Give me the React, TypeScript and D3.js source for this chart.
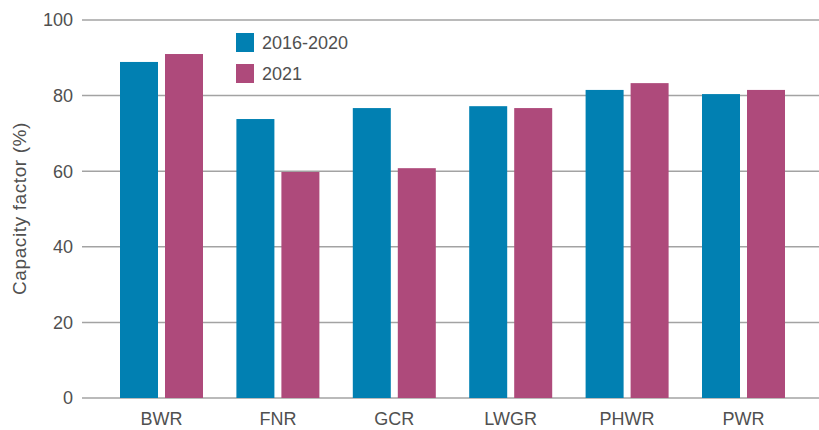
import React from "react";
import * as d3 from "d3";

const categories = ["BWR", "FNR", "GCR", "LWGR", "PHWR", "PWR"];
const seriesNames = ["2016-2020", "2021"];
const values2016_2020 = [88.9, 73.8, 76.7, 77.2, 81.5, 80.4];
const values2021 = [91.0, 59.8, 60.8, 76.7, 83.3, 81.5];
const yTicks = [0, 20, 40, 60, 80, 100];
const colors = ["#0180b2", "#ae4a7b"];

const W = 819;
const H = 430;
const FONT = "'Liberation Sans', Arial, sans-serif";
const TEXT = "#505050";

export default function App() {
  const y = d3.scaleLinear().domain([0, 100]).range([398, 20]);
  const x0 = d3.scaleBand<string>().domain(categories).range([103.3, 801.7]).padding(0);
  const groupW = 83;
  const x1 = d3
    .scaleBand<string>()
    .domain(seriesNames)
    .range([0, groupW])
    .paddingInner(7 / 45)
    .paddingOuter(0);
  const series = [values2016_2020, values2021];
  const gridX0 = 82;
  const gridX1 = 819;

  return (
    <svg width={W} height={H} style={{ position: "absolute", left: 0, top: 0 }} fontFamily={FONT}>
      <rect width={W} height={H} fill="#fff" />
      {yTicks.map((t) => (
        <g key={t}>
          <line x1={gridX0} x2={gridX1} y1={y(t)} y2={y(t)} stroke="#a3a3a3" strokeWidth={1.5} />
          <text x={73} y={y(t)} dy="0.36em" textAnchor="end" fontSize={18} fill={TEXT}>
            {t}
          </text>
        </g>
      ))}
      {categories.map((c, i) => {
        const gx = (x0(c) as number) + x0.bandwidth() / 2 - groupW / 2;
        return (
          <g key={c}>
            {seriesNames.map((s, j) => (
              <rect
                key={s}
                x={gx + (x1(s) as number)}
                y={y(series[j][i])}
                width={x1.bandwidth()}
                height={y(0) - y(series[j][i])}
                fill={colors[j]}
              />
            ))}
            <text x={gx + groupW / 2} y={425} textAnchor="middle" fontSize={18} fill={TEXT}>
              {c}
            </text>
          </g>
        );
      })}
      {seriesNames.map((s, j) => (
        <g key={s} transform={`translate(236, ${33 + j * 31})`}>
          <rect width={18} height={19} fill={colors[j]} />
          <text x={26} y={9.5} dy="0.36em" fontSize={18} fill={TEXT}>
            {s}
          </text>
        </g>
      ))}
      <text
        transform={`translate(26, 208.5) rotate(-90)`}
        textAnchor="middle"
        fontSize={19}
        letterSpacing={0.6}
        fill={TEXT}
      >
        Capacity factor (%)
      </text>
    </svg>
  );
}
